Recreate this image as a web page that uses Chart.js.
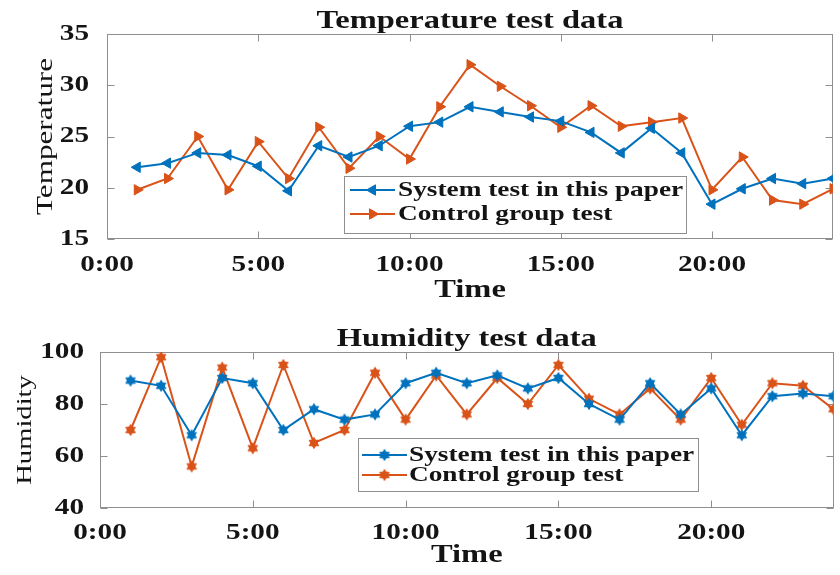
<!DOCTYPE html>
<html><head><meta charset="utf-8">
<script src="https://cdn.jsdelivr.net/npm/chart.js@4.4.1/dist/chart.umd.min.js"></script>
<style>
html,body{margin:0;padding:0;background:#fff;}
body{width:840px;height:575px;position:relative;overflow:hidden}
canvas{position:absolute;left:0}
#tempChart{top:0}
#humChart{top:318px}
</style></head><body>
<canvas id="tempChart" width="840" height="306"></canvas>
<canvas id="humChart" width="840" height="257"></canvas>
<script>
// ---------- data ----------
const hours = [1,2,3,4,5,6,7,8,9,10,11,12,13,14,15,16,17,18,19,20,21,22,23,24];
const seriesNames = ['System test in this paper', 'Control group test'];
const tempSystem  = [22,22.4,23.4,23.2,22.1,19.7,24.1,23,24.1,26,26.4,27.9,27.4,26.9,26.5,25.4,23.4,25.8,23.4,18.4,19.9,20.9,20.4,20.9];
const tempControl = [19.8,20.9,25,19.8,24.5,20.9,25.9,21.9,25,22.8,27.9,32,29.9,28,25.9,28,26,26.4,26.8,19.8,23,18.8,18.4,19.9];
const humSystem   = [89,87,68,90,88,70,78,74,76,88,92,88,91,86,90,80,74,88,76,86,68,83,84,83];
const humControl  = [70,98,56,94,63,95,65,70,92,74,91,76,90,80,95,82,76,86,74,90,72,88,87,78];
const timeTickValues = [0,5,10,15,20];
const timeTickLabels = ['0:00','5:00','10:00','15:00','20:00'];
const tempTicks = [15,20,25,30,35];
const humTicks = [40,60,80,100];
const tempTitle = 'Temperature test data';
const humTitle = 'Humidity test data';
const tempYLabel = 'Temperature';
const humYLabel = 'Humidity';
const xLabel = 'Time';

// ---------- styles ----------
const BLUE = '#0072BD', ORANGE = '#D95319';
const AXIS = '#8f8f8f', TEXT = '#141414';
const FAMILY = '"Liberation Serif", "Times New Roman", serif';
const SX = 1.3; // wide text rendering as in the reference

function stretchText(ctx){
  const f = ctx.fillText.bind(ctx);
  const m = ctx.measureText.bind(ctx);
  ctx.fillText = function(t, x, y, mw){
    this.save(); this.translate(x, y); this.scale(SX, 1);
    if (mw === undefined || mw === null) f(t, 0, 0); else f(t, 0, 0, mw / SX);
    this.restore();
  };
  ctx.measureText = function(t){
    const r = m(t);
    return {width: r.width * SX,
      actualBoundingBoxAscent: r.actualBoundingBoxAscent,
      actualBoundingBoxDescent: r.actualBoundingBoxDescent,
      actualBoundingBoxLeft: r.actualBoundingBoxLeft * SX,
      actualBoundingBoxRight: r.actualBoundingBoxRight * SX};
  };
}

function hexagram(color, r){
  const size = Math.ceil(r * 2 + 3);
  const c = document.createElement('canvas'); c.width = size; c.height = size;
  const g = c.getContext('2d');
  const cx = size / 2, cy = size / 2;
  g.fillStyle = color; g.strokeStyle = color; g.lineWidth = 1;
  for (const rot of [0, Math.PI]) {
    g.beginPath();
    for (let k = 0; k < 3; k++) {
      const a = rot + k * 2 * Math.PI / 3 - Math.PI / 2;
      const px = cx + r * Math.cos(a), py = cy + r * Math.sin(a);
      if (k) g.lineTo(px, py); else g.moveTo(px, py);
    }
    g.closePath(); g.fill(); g.stroke();
  }
  return c;
}

const decor = {
  id: 'decor',
  beforeDatasetsDraw(chart, args, o) {
    const ctx = chart.ctx, a = chart.chartArea;
    const xs = chart.scales.x, ys = chart.scales.y;
    ctx.save();
    ctx.strokeStyle = AXIS; ctx.lineWidth = 1;
    const L = Math.round(a.left) + 0.5, R = Math.round(a.right) - 0.5, T = Math.round(a.top) + 0.5, B = Math.round(a.bottom) - 0.5;
    ctx.strokeRect(L, T, R - L, B - T);
    ctx.beginPath();
    xs.ticks.forEach(t => {
      const px = Math.round(xs.getPixelForValue(t.value)) + 0.5;
      ctx.moveTo(px, B); ctx.lineTo(px, B - 7);
      ctx.moveTo(px, T); ctx.lineTo(px, T + 7);
    });
    ys.ticks.forEach(t => {
      const py = Math.round(ys.getPixelForValue(t.value)) + 0.5;
      ctx.moveTo(L, py); ctx.lineTo(L + 7, py);
      ctx.moveTo(R, py); ctx.lineTo(R - 7, py);
    });
    ctx.stroke();
    ctx.restore();
  },
  afterDatasetsDraw(chart, args, o) {
    const ctx = chart.ctx, lg = o.legend;
    ctx.save();
    ctx.fillStyle = '#fff'; ctx.strokeStyle = AXIS; ctx.lineWidth = 1;
    ctx.fillRect(lg.x0, lg.y0, lg.x1 - lg.x0, lg.y1 - lg.y0);
    ctx.strokeRect(lg.x0 + 0.5, lg.y0 + 0.5, lg.x1 - lg.x0, lg.y1 - lg.y0);
    chart.data.datasets.forEach((ds, i) => {
      const y = lg.rows[i];
      ctx.strokeStyle = ds.borderColor; ctx.lineWidth = 2;
      ctx.beginPath(); ctx.moveTo(lg.line[0], y); ctx.lineTo(lg.line[1], y); ctx.stroke();
      ctx.fillStyle = ds.pointBackgroundColor; ctx.strokeStyle = ds.pointBorderColor; ctx.lineWidth = 1;
      Chart.helpers.drawPoint(ctx, {pointStyle: ds.pointStyle, rotation: ds.pointRotation || 0, radius: ds.pointRadius, borderWidth: 1}, (lg.line[0] + lg.line[1]) / 2, y);
      ctx.fillStyle = TEXT;
      ctx.font = 'bold 21px ' + FAMILY;
      ctx.textAlign = 'left'; ctx.textBaseline = 'middle';
      ctx.fillText(ds.label, lg.textX, y + 1);
    });
    ctx.restore();
  },
  afterDraw(chart, args, o) {
    const ctx = chart.ctx, a = chart.chartArea;
    ctx.save();
    ctx.fillStyle = TEXT;
    ctx.font = 'bold 25px ' + FAMILY;
    ctx.textAlign = 'center'; ctx.textBaseline = 'alphabetic';
    ctx.fillText(o.title, (a.left + a.right) / 2, 28);
    ctx.restore();
  }
};

function makeChart(id, cfg) {
  const canvas = document.getElementById(id);
  stretchText(canvas.getContext('2d'));
  const H = canvas.height;
  return new Chart(canvas, {
    type: 'line',
    data: {
      datasets: cfg.series.map((s, i) => ({
        label: seriesNames[i],
        data: hours.map((h, k) => ({x: h, y: s.values[k]})),
        borderColor: s.color, backgroundColor: s.color,
        pointBackgroundColor: s.color, pointBorderColor: s.color,
        pointStyle: s.pointStyle, pointRotation: s.rotation || 0,
        pointRadius: s.radius, pointBorderWidth: 1,
        borderWidth: 2, tension: 0, fill: false
      }))
    },
    options: {
      responsive: false, animation: false, events: [],
      layout: {padding: {top: 34, left: 0, right: cfg.rightPad, bottom: 0}},
      plugins: {
        legend: {display: false}, tooltip: {enabled: false}, title: {display: false},
        decor: {title: cfg.title, legend: cfg.legend}
      },
      scales: {
        x: {
          type: 'linear', min: 0, max: 24,
          grid: {display: false}, border: {display: false},
          afterBuildTicks: s => { s.ticks = timeTickValues.map(v => ({value: v})); },
          afterFit: s => { s.height = H - cfg.bottom; },
          ticks: {
            autoSkip: false, maxRotation: 0, color: TEXT, padding: cfg.xTickPad,
            font: {family: FAMILY, size: 22.5, weight: 'bold'},
            callback: v => timeTickLabels[timeTickValues.indexOf(v)]
          },
          title: {display: true, text: xLabel, color: TEXT, padding: {top: 0, bottom: cfg.xTitlePad},
            font: {family: FAMILY, size: 25, weight: 'bold'}}
        },
        y: {
          type: 'linear', min: cfg.yTicks[0], max: cfg.yTicks[cfg.yTicks.length - 1],
          grid: {display: false}, border: {display: false},
          afterBuildTicks: s => { s.ticks = cfg.yTicks.map(v => ({value: v})); },
          afterFit: s => { s.width = cfg.left; },
          ticks: {color: TEXT, padding: cfg.yTickPad, font: {family: FAMILY, size: 22.5, weight: 'bold'},
            callback: v => String(v)},
          title: {display: true, text: cfg.yLabel, color: TEXT, padding: {top: cfg.yTitlePad, bottom: 0},
            font: {family: FAMILY, size: cfg.yLabelSize, weight: 'normal'}}
        }
      }
    },
    plugins: [decor]
  });
}

makeChart('tempChart', {
  title: tempTitle, yLabel: tempYLabel, yLabelSize: 24, yTitlePad: 31,
  yTicks: tempTicks, left: 107, rightPad: 6, bottom: 239,
  xTickPad: 4.5, xTitlePad: 0, yTickPad: 10,
  legend: {x0: 344, y0: 176, x1: 686, y1: 233, rows: [190, 214], line: [350, 395], textX: 398},
  series: [
    {values: tempSystem, color: BLUE, pointStyle: 'triangle', rotation: -90, radius: 6},
    {values: tempControl, color: ORANGE, pointStyle: 'triangle', rotation: 90, radius: 6}
  ]
});

makeChart('humChart', {
  title: humTitle, yLabel: humYLabel, yLabelSize: 22, yTitlePad: 12,
  yTicks: humTicks, left: 100, rightPad: 3, bottom: 190,
  xTickPad: 3.5, xTitlePad: 4, yTickPad: 8,
  legend: {x0: 358, y0: 120, x1: 698, y1: 173, rows: [137, 157], line: [362, 407], textX: 409},
  series: [
    {values: humSystem, color: BLUE, pointStyle: hexagram(BLUE, 5.5), radius: 5.5},
    {values: humControl, color: ORANGE, pointStyle: hexagram(ORANGE, 5.5), radius: 5.5}
  ]
});
</script>
</body></html>
